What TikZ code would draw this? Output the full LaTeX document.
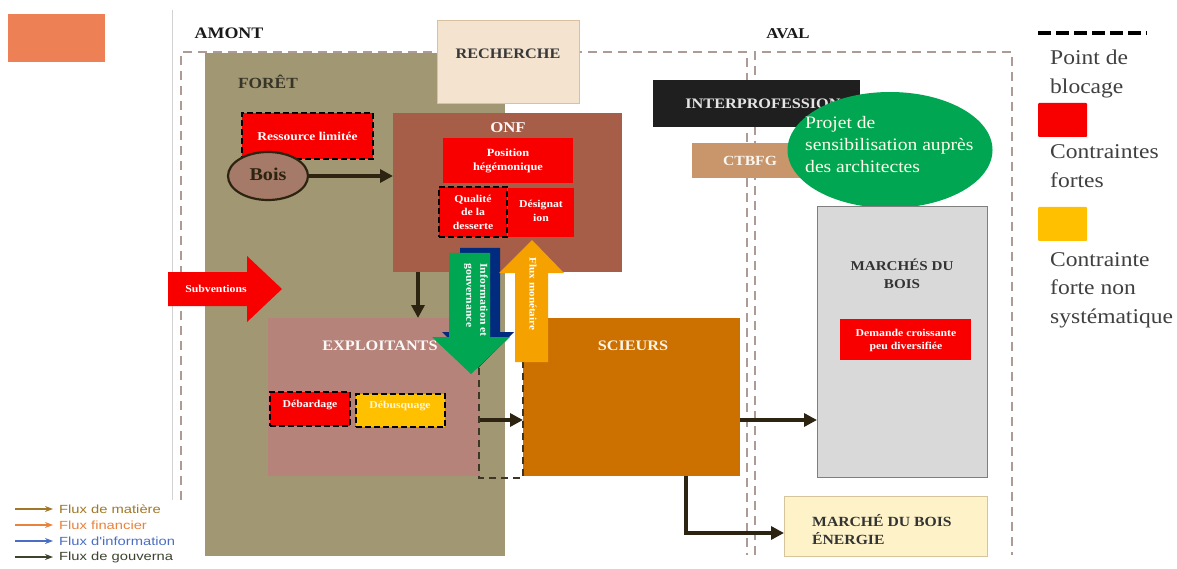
\documentclass[tikz,border=0pt]{standalone}
\usepackage{fontspec}
\setmainfont{Liberation Serif}[FakeStretch=1.12]
\newfontfamily\legsans{Liberation Sans}[FakeStretch=1.25]
\usetikzlibrary{arrows.meta,shapes.geometric,calc}
\definecolor{salmon}{HTML}{EE8056}
\definecolor{foretc}{HTML}{A19773}
\definecolor{onfc}{HTML}{A65E48}
\definecolor{explc}{HTML}{B5837A}
\definecolor{scic}{HTML}{CC7000}
\definecolor{rechc}{HTML}{F3E3CF}
\definecolor{rechb}{HTML}{D8C0A0}
\definecolor{redc}{HTML}{F80000}
\definecolor{yelc}{HTML}{FFC000}
\definecolor{greenc}{HTML}{00A651}
\definecolor{bluec}{HTML}{002B7F}
\definecolor{orangec}{HTML}{F5A200}
\definecolor{boisc}{HTML}{A67A68}
\definecolor{arrowc}{HTML}{2C2410}
\definecolor{zonec}{HTML}{AF9B96}
\definecolor{ctbc}{HTML}{C8966A}
\definecolor{marc}{HTML}{D9D9D9}
\definecolor{marb}{HTML}{7F7F7F}
\definecolor{enerc}{HTML}{FDF2C8}
\definecolor{enerb}{HTML}{D6C49A}
\definecolor{legtxt}{HTML}{404040}
\definecolor{lmat}{HTML}{A07828}
\definecolor{lfin}{HTML}{E8823C}
\definecolor{linf}{HTML}{4A6EC4}
\definecolor{lgov}{HTML}{3C4430}
\newcommand\fsz[2]{\fontsize{#1}{#2}\selectfont}
\tikzset{
  rect/.style={rectangle, inner sep=0pt, outer sep=0pt},
  lbl/.style={inner sep=0pt, font=\bfseries\fsz{15}{17}},
  wlbl/.style={inner sep=0pt, text=white, align=center, font=\bfseries\fsz{10.5}{13.5}},
  flow/.style={draw=arrowc, line width=3.6pt, -{Triangle[length=13pt,width=13pt]}},
  dashblk/.style={draw=black, line width=2.5pt, dash pattern=on 6pt off 3pt},
  zoneline/.style={draw=zonec, line width=1.6pt, dash pattern=on 9pt off 6pt},
  gapline/.style={draw=arrowc!80!gray, line width=1.6pt, dash pattern=on 7pt off 5pt},
  legtext/.style={inner sep=0pt, anchor=west, align=left, text=legtxt, font=\fsz{21}{28.5}},
  legflow/.style={line width=1.3pt, -{Stealth[length=8pt,width=6pt]}},
  legsans/.style={inner sep=0pt, anchor=west, font=\legsans\fsz{11.8}{13}},
}
\begin{document}
\begin{tikzpicture}[x=1pt,y=-1pt]
\useasboundingbox (0,0) rectangle (1177,569);
\fill[white] (0,0) rectangle (1177,569);

% salmon block
\node[rect, fill=salmon, minimum width=97pt, minimum height=48pt] (salmon) at (56.5,38) {};

% thin gray line and zones
\draw[gray!35, line width=1pt] (172,10) -- (172,500);
\draw[zoneline] (181,500) -- (181,52) -- (747,52) -- (747,555);
\draw[zoneline] (755,555) -- (755,52) -- (1012,52) -- (1012,555);
\node[lbl, text=black!90, font=\bfseries\fsz{16}{18}] (amont) at (229,33) {AMONT};
\node[lbl, text=black!90] (aval) at (788,34) {AVAL};

% foret
\node[rect, fill=foretc, minimum width=300pt, minimum height=503pt] (foret) at (355,304.5) {};
\node[lbl, text=black!65!foretc, font=\bfseries\fsz{15.5}{17}] (foretlbl) at (268,82) {FORÊT};

% recherche
\node[rect, fill=rechc, draw=rechb, line width=1pt, minimum width=142pt, minimum height=83pt] (rech) at (508,62.5) {};
\node[lbl, text=black!78, font=\bfseries\fsz{14.5}{17}] (rechlbl) at (508,54) {RECHERCHE};

% ONF
\node[rect, fill=onfc, minimum width=229pt, minimum height=159pt] (onf) at (507.5,192.5) {};
\node[lbl, text=white!95!onfc] (onflbl) at (508,128) {ONF};
\node[rect, fill=redc, minimum width=130pt, minimum height=45pt] (pos) at (508,160.5) {};
\node[wlbl, font=\bfseries\fsz{11}{14}] (poslbl) at (508,161) {Position\\hégémonique};
\node[rect, fill=redc, minimum width=66pt, minimum height=49pt] (desig) at (541,212.5) {};
\node[wlbl] (desiglbl) at (541,211) {Désignat\\ion};
\node[rect, fill=redc, dashblk, minimum width=68pt, minimum height=50pt] (qual) at (473,212) {};
\node[wlbl] (quallbl) at (473,212) {Qualité\\de la\\desserte};

% ressource / bois
\node[rect, fill=redc, dashblk, minimum width=131pt, minimum height=46pt] (res) at (307.5,136) {};
\node[wlbl, font=\bfseries\fsz{12}{14}] (reslbl) at (307.5,136) {Ressource limitée};
\node[ellipse, inner sep=0pt, fill=boisc, draw=arrowc, line width=2.2pt, minimum width=80pt, minimum height=48pt] (bois) at (268,176) {};
\node[lbl, text=arrowc, font=\bfseries\fsz{18}{20}] (boislbl) at (268,174) {Bois};
\draw[flow] (bois.east) -- (onf.west |- bois.east);

% exploitants, scieurs
\node[rect, fill=explc, minimum width=212pt, minimum height=158pt] (expl) at (374,397) {};
\node[lbl, text=white!94!explc, font=\bfseries\fsz{14.5}{17}] (expllbl) at (380,346) {EXPLOITANTS};
\node[rect, fill=scic, minimum width=217pt, minimum height=158pt] (sci) at (631.5,397) {};
\node[lbl, text=white!92!scic, font=\bfseries\fsz{14.5}{17}] (scilbl) at (633,346) {SCIEURS};
\draw[flow] (onf.south -| 418,0) -- (expl.north -| 418,0);

\node[rect, fill=redc, dashblk, minimum width=80pt, minimum height=34pt] (debar) at (310,409) {};
\node[wlbl] (debarlbl) at (310,405) {Débardage};
\node[rect, fill=yelc, dashblk, minimum width=89pt, minimum height=33pt] (debus) at (400.5,410.5) {};
\node[wlbl, text=white!85!yelc] (debuslbl) at (400,406) {Débusquage};

% blocking gap
\draw[gapline] (479,368) -- (479,478) -- (523,478) -- (523,362);
\draw[flow] (expl.east |- 0,420) -- (sci.west |- 0,420);

% information / gouvernance arrows
\fill[bluec] (460,248) -- (500,248) -- (500,332) -- (514,332) -- (478,368) -- (442,332) -- (460,332) -- cycle;
\fill[greenc] (449,253) -- (490,253) -- (490,337) -- (510,337) -- (471,374) -- (432,337) -- (449,337) -- cycle;
\node[wlbl, rotate=-90, align=left, font=\bfseries\fsz{10.5}{14}] (infolbl) at (476,300) {Information et\\gouvernance};
\fill[orangec] (515,362) -- (515,273) -- (499,273) -- (532,240) -- (564,273) -- (548,273) -- (548,362) -- cycle;
\node[wlbl, rotate=-90, font=\bfseries\fsz{10}{12}] (fluxlbl) at (533,294) {Flux monétaire};

% subventions
\fill[redc] (168,272) -- (247,272) -- (247,256) -- (282,289) -- (247,322) -- (247,306) -- (168,306) -- cycle;
\node[wlbl] (subvlbl) at (216,289) {Subventions};

% interprofession, ctbfg, projet
\node[rect, fill=black!88, minimum width=207pt, minimum height=47pt] (interp) at (756.5,103.5) {};
\node[lbl, text=white!90!black, font=\bfseries\fsz{14.5}{17}] (interplbl) at (763,104) {INTERPROFESSION};
\node[rect, fill=ctbc, minimum width=128pt, minimum height=35pt] (ctbfg) at (756,160.5) {};
\node[lbl, text=white!90!ctbc, font=\bfseries\fsz{14}{17}] (ctbfglbl) at (750,161) {CTBFG};
\node[ellipse, inner sep=0pt, fill=greenc, minimum width=205pt, minimum height=116pt] (proj) at (890,150) {};
\node[inner sep=0pt, anchor=west, align=left, text=white!92!yellow, font=\fsz{17.5}{22}] (projlbl) at (805,145) {Projet de\\sensibilisation auprès\\des architectes};

% marchés
\node[rect, fill=marc, draw=marb, line width=1pt, minimum width=170pt, minimum height=270pt] (mar) at (902,342) {};
\node[lbl, text=black!80, align=center, font=\bfseries\fsz{13.5}{18}] (marlbl) at (902,274) {MARCHÉS DU\\BOIS};
\node[rect, fill=redc, minimum width=131pt, minimum height=41pt] (dem) at (905.5,339.5) {};
\node[wlbl, font=\bfseries\fsz{10.5}{13}] (demlbl) at (906,340) {Demande croissante\\peu diversifiée};
\draw[flow] (sci.east |- 0,420) -- (mar.west |- 0,420);

\node[rect, fill=enerc, draw=enerb, line width=1pt, minimum width=203pt, minimum height=60pt] (ener) at (885.5,526) {};
\node[lbl, anchor=west, align=left, text=black!80, font=\bfseries\fsz{14}{18}] (enerlbl) at (812,530) {MARCHÉ DU BOIS\\ÉNERGIE};
\draw[flow] (sci.south -| 686,0) |- ([yshift=-7pt]ener.west);

% white band at bottom
\fill[white] (176,557) rectangle (1177,569);

% legend right
\coordinate (lgA) at (1038,33);
\coordinate (lgB) at (1147,33);
\draw[black, line width=4pt, dash pattern=on 13pt off 5pt] (lgA) -- (lgB);
\node[legtext] (lg1) at (1050,74) {Point de\\blocage};
\node[rect, fill=redc, minimum width=49pt, minimum height=34pt, rounded corners=1pt] (lgred) at (1062.5,120) {};
\node[legtext] (lg2) at (1050,166) {Contraintes\\fortes};
\node[rect, fill=yelc, minimum width=49pt, minimum height=34pt, rounded corners=1pt] (lgyel) at (1062.5,224) {};
\node[legtext] (lg3) at (1050,290) {Contrainte\\forte non\\systématique};

% legend bottom-left
\coordinate (m1) at (15,509); \coordinate (m2) at (53,509);
\coordinate (f1) at (15,525); \coordinate (f2) at (53,525);
\coordinate (i1) at (15,541); \coordinate (i2) at (53,541);
\coordinate (g1) at (15,557); \coordinate (g2) at (53,557);
\draw[legflow, lmat] (m1) -- (m2);
\draw[legflow, lfin] (f1) -- (f2);
\draw[legflow, linf] (i1) -- (i2);
\draw[legflow, lgov] (g1) -- (g2);
\node[legsans, text=lmat] (lt1) at (59,509) {Flux de matière};
\node[legsans, text=lfin] (lt2) at (59,525) {Flux financier};
\node[legsans, text=linf] (lt3) at (59,541) {Flux d'information};
\node[legsans, text=lgov] (lt4) at (59,557) {Flux de gouverna};
\end{tikzpicture}
\end{document}
